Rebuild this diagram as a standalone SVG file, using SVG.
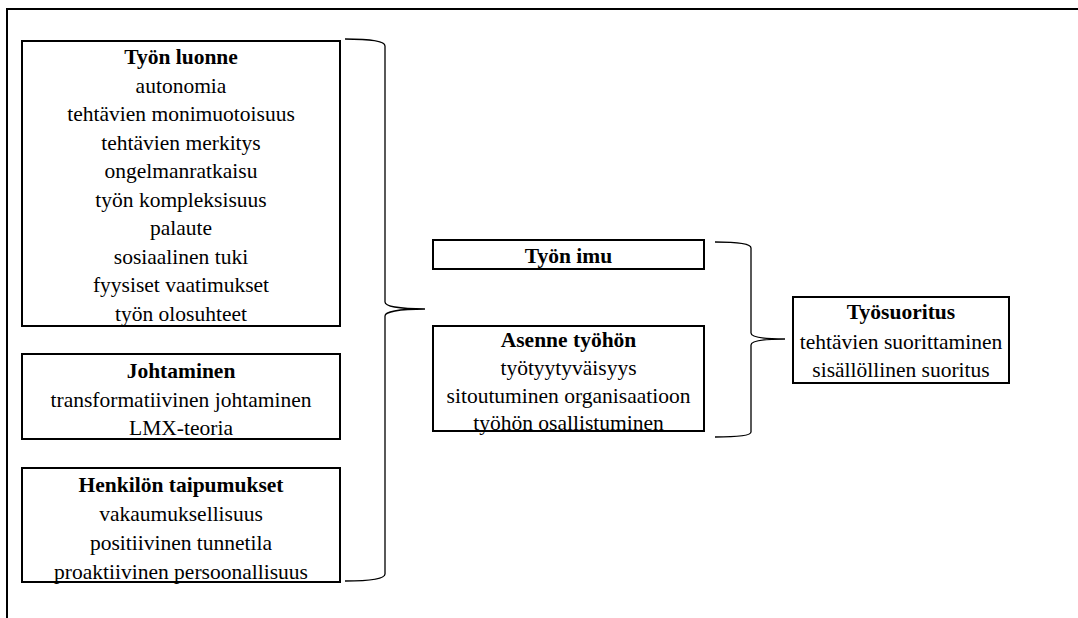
<svg xmlns="http://www.w3.org/2000/svg" width="1078" height="618" viewBox="0 0 1078 618">
  <style>
    .frame { fill: none; stroke: #000; stroke-width: 2; }
    .box { fill: #fff; stroke: #000; stroke-width: 2; }
    .brace { fill: none; stroke: #000; stroke-width: 1.3; }
    .lbl { font-family: "Liberation Serif", "Times New Roman", serif; font-size: 21.5px; fill: #000; text-anchor: middle; }
    .title { font-weight: bold; }
  </style>
  <rect width="1078" height="618" fill="#fff"/>
  <!-- page frame, only top and left edges visible -->
  <path class="frame" d="M7,618 V9 H1078"/>

  <g id="tyon-luonne">
    <rect class="box" x="22" y="41" width="318" height="285"/>
    <text class="lbl title" x="181" y="64">Työn luonne</text>
    <text class="lbl" x="181" y="93">autonomia</text>
    <text class="lbl" x="181" y="121">tehtävien monimuotoisuus</text>
    <text class="lbl" x="181" y="150">tehtävien merkitys</text>
    <text class="lbl" x="181" y="178">ongelmanratkaisu</text>
    <text class="lbl" x="181" y="207">työn kompleksisuus</text>
    <text class="lbl" x="181" y="235">palaute</text>
    <text class="lbl" x="181" y="264">sosiaalinen tuki</text>
    <text class="lbl" x="181" y="292">fyysiset vaatimukset</text>
    <text class="lbl" x="181" y="321">työn olosuhteet</text>
  </g>

  <g id="johtaminen">
    <rect class="box" x="22" y="354" width="318" height="85"/>
    <text class="lbl title" x="181" y="378">Johtaminen</text>
    <text class="lbl" x="181" y="407">transformatiivinen johtaminen</text>
    <text class="lbl" x="181" y="435">LMX-teoria</text>
  </g>

  <g id="henkilon-taipumukset">
    <rect class="box" x="22" y="468" width="318" height="114"/>
    <text class="lbl title" x="181" y="492">Henkilön taipumukset</text>
    <text class="lbl" x="181" y="521">vakaumuksellisuus</text>
    <text class="lbl" x="181" y="550">positiivinen tunnetila</text>
    <text class="lbl" x="181" y="579">proaktiivinen persoonallisuus</text>
  </g>

  <g id="tyon-imu">
    <rect class="box" x="433" y="240" width="271" height="29"/>
    <text class="lbl title" x="568.5" y="263">Työn imu</text>
  </g>

  <g id="asenne-tyohon">
    <rect class="box" x="433" y="326" width="271" height="105"/>
    <text class="lbl title" x="568.5" y="347">Asenne työhön</text>
    <text class="lbl" x="568.5" y="375">työtyytyväisyys</text>
    <text class="lbl" x="568.5" y="403">sitoutuminen organisaatioon</text>
    <text class="lbl" x="568.5" y="430">työhön osallistuminen</text>
  </g>

  <g id="tyosuoritus">
    <rect class="box" x="793" y="297" width="216" height="86"/>
    <text class="lbl title" x="901" y="319">Työsuoritus</text>
    <text class="lbl" x="901" y="349">tehtävien suorittaminen</text>
    <text class="lbl" x="901" y="377">sisällöllinen suoritus</text>
  </g>

  <g id="connectors">
    <!-- left brace grouping the antecedents -->
    <path class="brace" d="M345,39 C372,39 385,41 385,46 V302 C385,306 398,309 425,309 C398,309 385,312 385,316 V574 C385,579 372,581 345,581"/>
    <!-- right brace grouping the mediators -->
    <path class="brace" d="M715,242 C739,242 751,244 751,248 V333 C751,337 762,339 785,339 C762,339 751,341 751,345 V432 C751,435 739,437 715,437"/>
  </g>
</svg>
